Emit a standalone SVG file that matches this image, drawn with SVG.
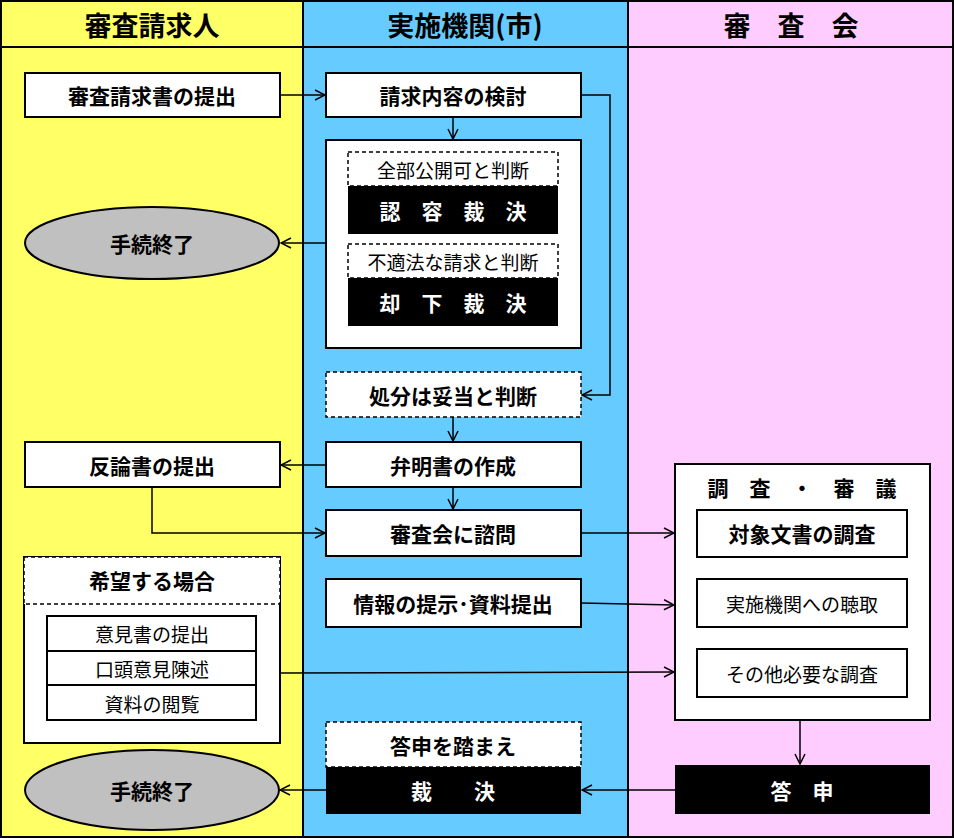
<svg xmlns="http://www.w3.org/2000/svg" width="954" height="838" viewBox="0 0 954 838">
<defs>
<style>
text{font-family:"Noto Sans CJK JP","Liberation Sans",sans-serif;text-anchor:middle;dominant-baseline:central}
.b{fill:#fff;stroke:#000;stroke-width:2}
.d{fill:#fff;stroke:#000;stroke-width:1.5;stroke-dasharray:4 3}
.k{fill:#000}
.t{font-size:21px;font-weight:bold;fill:#000}
.n{font-size:19px;fill:#000}
.w{font-size:21px;font-weight:bold;fill:#fff}
.h{font-size:27px;font-weight:bold;fill:#000}
.c{fill:none;stroke:#000;stroke-width:1.5;marker-end:url(#a)}
</style>
<marker id="a" viewBox="0 0 12 12" refX="11" refY="6" markerWidth="12" markerHeight="12" markerUnits="userSpaceOnUse" orient="auto"><path d="M1,1 L11,6 L1,11" fill="none" stroke="#000" stroke-width="1.5"/></marker>
</defs>
<g id="lanes">
<rect x="0" y="0" width="303" height="838" fill="#ffff66"/>
<rect x="303" y="0" width="325" height="838" fill="#66ccff"/>
<rect x="628" y="0" width="326" height="838" fill="#ffccff"/>
<line x1="0" y1="47" x2="954" y2="47" stroke="#000" stroke-width="2"/>
<line x1="303" y1="0" x2="303" y2="838" stroke="#000" stroke-width="2"/>
<line x1="628" y1="0" x2="628" y2="838" stroke="#000" stroke-width="2"/>
<rect x="1" y="1" width="952" height="836" fill="none" stroke="#000" stroke-width="2"/>
<text class="h" x="152" y="24">審査請求人</text>
<text class="h" x="465" y="24">実施機関(市)</text>
<text class="h" x="791" y="24">審　査　会</text>
</g>
<g id="n1"><rect class="b" x="25" y="73" width="255" height="44"/><text class="t" x="152" y="95">審査請求書の提出</text></g>
<g id="n2"><rect class="b" x="326" y="73" width="255" height="44"/><text class="t" x="453" y="95">請求内容の検討</text></g>
<g id="n3"><rect class="b" x="326" y="140" width="255" height="208"/>
<rect class="d" x="348" y="152" width="210" height="34"/><text class="n" x="453" y="169">全部公開可と判断</text>
<rect class="k" x="348" y="186" width="210" height="48"/><text class="w" x="453" y="210">認　容　裁　決</text>
<rect class="d" x="348" y="244" width="210" height="34"/><text class="n" x="453" y="261">不適法な請求と判断</text>
<rect class="k" x="348" y="278" width="210" height="48"/><text class="w" x="453" y="302">却　下　裁　決</text></g>
<g id="n4"><ellipse cx="152" cy="243" rx="127" ry="36" fill="#c0c0c0" stroke="#000" stroke-width="2"/><text class="t" x="152" y="243">手続終了</text></g>
<g id="n5"><rect class="d" x="326" y="372" width="255" height="45"/><text class="t" x="453" y="395">処分は妥当と判断</text></g>
<g id="n6"><rect class="b" x="326" y="442" width="255" height="45"/><text class="t" x="453" y="465">弁明書の作成</text></g>
<g id="n7"><rect class="b" x="25" y="442" width="255" height="45"/><text class="t" x="152" y="465">反論書の提出</text></g>
<g id="n8"><rect class="b" x="326" y="510" width="255" height="46"/><text class="t" x="453" y="533">審査会に諮問</text></g>
<g id="n9"><rect class="b" x="326" y="579" width="255" height="48"/><text class="t" x="453" y="603">情報の提示･資料提出</text></g>
<g id="n10"><rect class="b" x="675" y="464" width="255" height="256"/><text class="t" x="802" y="487">調　査　・　審　議</text>
<rect class="b" x="697" y="510" width="210" height="47"/><text class="t" x="802" y="533">対象文書の調査</text>
<rect class="b" x="697" y="579" width="210" height="48"/><text class="n" x="802" y="603">実施機関への聴取</text>
<rect class="b" x="697" y="649" width="210" height="48"/><text class="n" x="802" y="673">その他必要な調査</text></g>
<g id="n11"><rect class="b" x="24" y="557" width="256" height="186"/>
<rect class="d" x="24" y="557" width="256" height="47"/><text class="t" x="152" y="580">希望する場合</text>
<rect class="b" x="47" y="616" width="209" height="35"/><text class="n" x="152" y="633">意見書の提出</text>
<rect class="b" x="47" y="651" width="209" height="34"/><text class="n" x="152" y="668">口頭意見陳述</text>
<rect class="b" x="47" y="685" width="209" height="35"/><text class="n" x="152" y="703">資料の閲覧</text></g>
<g id="n12"><rect class="d" x="326" y="722" width="255" height="45"/><text class="t" x="453" y="745">答申を踏まえ</text>
<rect class="k" x="326" y="767" width="255" height="47"/><text class="w" x="453" y="790">裁　　決</text></g>
<g id="n13"><rect class="k" x="675" y="765" width="255" height="49"/><text class="w" x="802" y="790">答　申</text></g>
<g id="n14"><ellipse cx="152" cy="790" rx="127" ry="40" fill="#c0c0c0" stroke="#000" stroke-width="2"/><text class="t" x="152" y="790">手続終了</text></g>
<g id="connectors">
<path class="c" d="M280,95 H325"/>
<path class="c" d="M453,117 V139"/>
<path class="c" d="M581,95 H610 V395 H582"/>
<path class="c" d="M326,243 H281"/>
<path class="c" d="M453,417 V441"/>
<path class="c" d="M326,465 H281"/>
<path class="c" d="M453,487 V509"/>
<path class="c" d="M152,487 V533 H325"/>
<path class="c" d="M581,533 H674"/>
<path class="c" d="M581,603 L674,605"/>
<path class="c" d="M280,673 L674,672"/>
<path class="c" d="M800,720 V764"/>
<path class="c" d="M675,790 H582"/>
<path class="c" d="M326,790 H280"/>
</g>
</svg>
